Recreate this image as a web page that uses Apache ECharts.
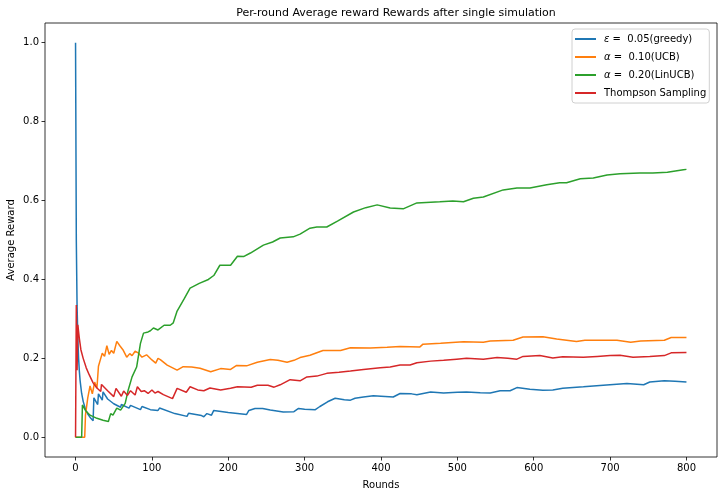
<!DOCTYPE html>
<html>
<head>
<meta charset="utf-8">
<script src="https://cdn.jsdelivr.net/npm/echarts@6/dist/echarts.min.js"></script>
<style>html,body{margin:0;padding:0;background:#fff}#c{width:720px;height:496px}</style>
</head>
<body>
<div id="c"></div>
<script>
const seriesNames = ['ε =  0.05(greedy)', 'α =  0.10(UCB)', 'α =  0.20(LinUCB)', 'Thompson Sampling'];
const xTicks = [0, 100, 200, 300, 400, 500, 600, 700, 800];
const yTicks = [0.0, 0.2, 0.4, 0.6, 0.8, 1.0];

const greedyRounds = [0,1,2,3,4,5,6,8,10,13,16,20,23,24,29,30,35,36,42,50,59,60,70,72,85,87,98,100,108,110,130,146,148,165,168,172,178,181,200,224,227,235,245,255,272,286,292,300,314,320,330,340,352,360,366,377,390,400,416,425,440,447,465,482,500,512,530,543,556,569,578,595,612,625,638,665,691,722,744,752,771,785,800];
const greedyValues = [1.0,0.5,0.333,0.25,0.2,0.167,0.143,0.111,0.091,0.071,0.059,0.048,0.042,0.1,0.083,0.11,0.094,0.115,0.097,0.085,0.076,0.083,0.074,0.081,0.07,0.078,0.07,0.075,0.068,0.074,0.06,0.053,0.061,0.055,0.052,0.06,0.056,0.068,0.063,0.058,0.068,0.073,0.073,0.069,0.064,0.065,0.073,0.071,0.07,0.078,0.09,0.099,0.095,0.094,0.099,0.102,0.105,0.104,0.102,0.111,0.11,0.108,0.115,0.112,0.114,0.115,0.113,0.112,0.118,0.118,0.126,0.122,0.119,0.12,0.124,0.128,0.132,0.136,0.133,0.14,0.143,0.142,0.14];

const ucbRounds = [0,12,13,16,19,22,25,28,30,33,35,38,41,44,47,50,54,58,62,67,71,74,78,82,87,93,100,105,108,111,120,133,141,152,163,177,190,203,211,224,238,255,265,277,286,294,307,324,347,360,386,408,425,451,455,478,508,534,543,573,586,612,630,656,667,687,709,727,740,771,780,800];
const ucbValues = [0,0,0.056,0.1,0.13,0.11,0.14,0.125,0.18,0.2,0.213,0.205,0.232,0.21,0.22,0.213,0.243,0.232,0.222,0.203,0.212,0.207,0.218,0.214,0.203,0.209,0.196,0.188,0.2,0.197,0.183,0.17,0.179,0.178,0.175,0.166,0.174,0.172,0.182,0.181,0.19,0.197,0.195,0.19,0.195,0.202,0.208,0.22,0.22,0.227,0.226,0.228,0.23,0.229,0.236,0.238,0.242,0.241,0.244,0.246,0.254,0.255,0.249,0.243,0.246,0.246,0.246,0.241,0.244,0.246,0.253,0.253];

const linucbRounds = [0,8,9,13,19,28,36,43,46,49,54,59,65,69,74,80,85,89,95,98,102,108,116,124,128,133,142,150,162,174,181,189,203,212,220,229,246,258,268,285,294,307,316,329,343,364,380,395,412,429,447,477,494,508,521,534,560,578,595,617,634,643,661,678,696,713,739,756,775,796,800];
const linucbValues = [0,0,0.082,0.068,0.056,0.048,0.043,0.04,0.06,0.056,0.074,0.069,0.086,0.12,0.153,0.178,0.238,0.264,0.267,0.27,0.277,0.272,0.284,0.284,0.29,0.32,0.35,0.378,0.39,0.4,0.41,0.436,0.436,0.459,0.458,0.467,0.487,0.495,0.505,0.508,0.515,0.53,0.533,0.533,0.548,0.571,0.582,0.589,0.581,0.579,0.594,0.597,0.599,0.597,0.606,0.609,0.627,0.632,0.632,0.64,0.645,0.645,0.655,0.657,0.665,0.668,0.67,0.67,0.672,0.678,0.679];

const thompsonRounds = [0,1,2,3,5,7,10,14,18,23,28,33,34,42,50,53,60,63,68,72,78,81,86,90,95,100,104,108,115,127,133,145,150,160,168,176,190,203,212,230,238,252,260,268,281,294,303,316,329,345,360,377,399,412,425,438,447,465,482,499,512,534,552,566,578,586,608,625,638,665,683,700,713,730,752,771,780,800];
const thompsonValues = [0,0.335,0.17,0.285,0.25,0.222,0.2,0.176,0.158,0.138,0.125,0.116,0.134,0.118,0.103,0.124,0.104,0.117,0.106,0.118,0.107,0.128,0.116,0.118,0.111,0.12,0.112,0.116,0.108,0.098,0.124,0.114,0.128,0.12,0.118,0.125,0.12,0.124,0.128,0.127,0.132,0.132,0.127,0.133,0.146,0.143,0.153,0.155,0.162,0.165,0.168,0.172,0.176,0.178,0.183,0.183,0.189,0.193,0.195,0.198,0.2,0.198,0.202,0.2,0.198,0.205,0.207,0.201,0.204,0.203,0.205,0.207,0.208,0.203,0.205,0.207,0.214,0.215];

const colors = ['#1f77b4', '#ff7f0e', '#2ca02c', '#d62728'];
const allRounds = [greedyRounds, ucbRounds, linucbRounds, thompsonRounds];
const allValues = [greedyValues, ucbValues, linucbValues, thompsonValues];

const FONT = 'DejaVu Sans';
const chart = echarts.init(document.getElementById('c'), null, {renderer: 'canvas'});
chart.setOption({
  animation: false,
  backgroundColor: '#fff',
  title: {
    text: 'Per-round Average reward Rewards after single simulation',
    left: 391, top: 3, textAlign: 'center',
    textStyle: {fontFamily: FONT, fontSize: 11, fontWeight: 'normal', color: '#000'}
  },
  legend: {
    orient: 'vertical', left: 572, top: 29,
    data: seriesNames,
    icon: 'rect', itemWidth: 21, itemHeight: 2, itemGap: 8,
    backgroundColor: '#fff', borderColor: '#d0d0d0', borderWidth: 1, borderRadius: 3,
    padding: [5, 3, 5, 3],
    formatter: function (n) {
      if (n.charAt(0) === 'ε' || n.charAt(0) === 'α') return '{i|' + n.charAt(0) + '}' + n.slice(1);
      return n;
    },
    textStyle: {fontFamily: FONT, fontSize: 10, color: '#000', padding: [0, 0, 0, 3],
      rich: {i: {fontFamily: FONT, fontSize: 10, fontStyle: 'italic', color: '#000'}}}
  },
  grid: {left: 45, right: 3, top: 23, bottom: 39, outerBoundsMode: 'none', containLabel: false,
    show: true, borderColor: '#000', borderWidth: 0.8, backgroundColor: 'transparent'},
  xAxis: {
    type: 'value', min: -40, max: 840,
    name: 'Rounds', nameLocation: 'middle', nameGap: 23, nameMoveOverlap: false,
    nameTextStyle: {fontFamily: FONT, fontSize: 10, color: '#000'},
    axisLine: {show: false, onZero: false},
    splitLine: {show: false},
    axisTick: {show: true, inside: false, length: 3.5, customValues: xTicks, lineStyle: {color: '#000', width: 0.8}},
    axisLabel: {customValues: xTicks, fontFamily: FONT, fontSize: 10, color: '#000', margin: 6}
  },
  yAxis: {
    type: 'value', min: -0.05, max: 1.05,
    name: 'Average Reward', nameLocation: 'middle', nameGap: 29, nameMoveOverlap: false,
    nameTextStyle: {fontFamily: FONT, fontSize: 10, color: '#000'},
    axisLine: {show: false, onZero: false},
    splitLine: {show: false},
    axisTick: {show: true, inside: false, length: 3.5, customValues: yTicks, lineStyle: {color: '#000', width: 0.8}},
    axisLabel: {customValues: yTicks, fontFamily: FONT, fontSize: 10, color: '#000', margin: 6,
      formatter: v => v.toFixed(1)}
  },
  series: seriesNames.map((n, i) => ({
    name: n, type: 'line', symbol: 'none', showSymbol: false,
    color: colors[i],
    lineStyle: {width: 1.5, color: colors[i]},
    data: allRounds[i].map((r, k) => [r, allValues[i][k]])
  }))
});
</script>
</body>
</html>
